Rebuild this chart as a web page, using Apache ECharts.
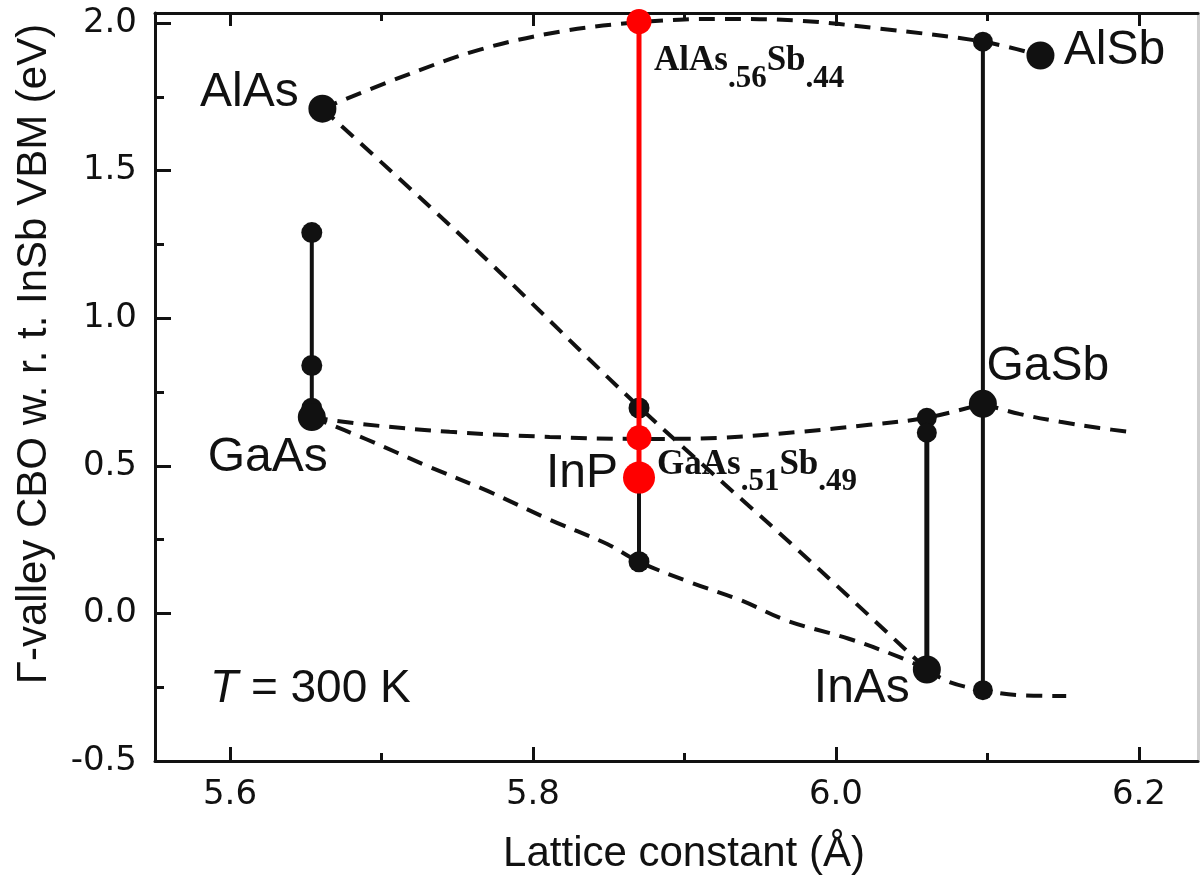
<!DOCTYPE html>
<html>
<head>
<meta charset="utf-8">
<script src="https://cdn.jsdelivr.net/npm/echarts@6/dist/echarts.min.js"></script>
<style>
  html, body { margin: 0; padding: 0; background: #fff; }
  #chart { width: 1200px; height: 883px; }
</style>
</head>
<body>
<div id="chart"></div>
<script>
// Binary III-V compounds: lattice constant (Å) and Γ-valley CBO w.r.t. InSb VBM (eV)
const compounds = ['AlAs', 'AlSb', 'GaSb', 'InAs', 'GaAs', 'InP'];
const latticeA  = [5.661, 6.135, 6.097, 6.06, 5.654, 5.87];
const cboBinary = [1.71, 1.89, 0.71, -0.19, 0.665, 0.46];

// Additional band-edge points stacked at each lattice constant
const colGaAs = [1.29, 0.84, 0.695];
const colInP  = [0.696, 0.175];
const colInAs = [0.663, 0.612];
const colGaSb = [1.937, -0.26];

// Alloys lattice-matched to InP
const alloyCbo   = [2.005, 0.595];
const alloyParts = [['AlAs', '.56', 'Sb', '.44'], ['GaAs', '.51', 'Sb', '.49']];

// Ternary alloy curves: [lattice constant, CBO]
const curveAlAsAlSb = [[5.661, 1.71], [5.712, 1.815], [5.765, 1.91], [5.818, 1.971], [5.87, 2.003],
                       [5.923, 2.014], [5.976, 2.008], [6.029, 1.981], [6.097, 1.937], [6.135, 1.89]];
const curveAlAsInAs = [[5.661, 1.71], [5.765, 1.22], [5.87, 0.70], [5.976, 0.21], [6.06, -0.19]];
const curveGaAsGaSb = [[5.654, 0.665], [5.686, 0.642], [5.745, 0.615], [5.811, 0.598], [5.87, 0.591],
                       [5.923, 0.595], [5.976, 0.615], [6.022, 0.639], [6.06, 0.663], [6.097, 0.71]];
const curveGaSbTail = [[6.097, 0.71], [6.121, 0.676], [6.148, 0.649], [6.174, 0.628], [6.194, 0.615]];
const curveGaAsInAs = [[5.654, 0.665], [5.69, 0.59], [5.73, 0.50], [5.77, 0.415], [5.81, 0.32],
                       [5.849, 0.235], [5.87, 0.175], [5.904, 0.105], [5.937, 0.045], [5.968, -0.025],
                       [6.008, -0.085], [6.042, -0.148], [6.06, -0.19]];
const curveInAsTail = [[6.06, -0.19], [6.075, -0.233], [6.097, -0.26], [6.121, -0.277], [6.152, -0.28]];

// Axis ticks
const xMajor = [5.6, 5.8, 6.0, 6.2];
const xMinor = [5.7, 5.9, 6.1];
const yMajor = [-0.5, 0.0, 0.5, 1.0, 1.5, 2.0];
const yMinor = [-0.25, 0.25, 0.75, 1.25, 1.75];

const xTitle = 'Lattice constant (Å)';
const yTitle = 'Γ-valley CBO w. r. t. InSb VBM (eV)';
const tempNote = ['T', ' = 300 K'];

// ---------------------------------------------------------------
const INK = '#111111';
const RED = '#ff0000';
const SANS = 'Liberation Sans, Arial, Helvetica, sans-serif';
const TICKFONT = 'DejaVu Sans, sans-serif';
const SERIF = 'Liberation Serif, Times New Roman, serif';

const X_MIN = 5.5505, X_MAX = 6.239;
const Y_MIN = -0.5, Y_MAX = 2.034;

const latticeOf = name => latticeA[compounds.indexOf(name)];
const cboOf = name => cboBinary[compounds.indexOf(name)];

const dashed = { type: [16, 10], width: 4, color: INK };

function curve(data) {
  return {
    type: 'line', data: data, smooth: 0.35, showSymbol: false, symbol: 'none',
    lineStyle: dashed, z: 1, silent: true
  };
}

function vbar(name, extra, width, color, z) {
  const vals = extra.concat([cboOf(name)]);
  const a = latticeOf(name);
  return {
    type: 'line', symbol: 'none', showSymbol: false, z: z, silent: true,
    lineStyle: { color: color, width: width, opacity: 1 },
    data: [[a, Math.max(...vals)], [a, Math.min(...vals)]]
  };
}

function dots(name, values, size, color, z) {
  const a = latticeOf(name);
  return {
    type: 'scatter', symbol: 'circle', symbolSize: size, z: z, silent: true,
    itemStyle: { color: color, opacity: 1 },
    data: values.map(v => [a, v])
  };
}

const nameLabelOffset = {
  AlAs: [-73, -16], AlSb: [74, -5], GaSb: [65, -37],
  InAs: [-65, 19], GaAs: [-44, 41], InP: [-57, -4]
};

const binarySeries = {
  type: 'scatter', symbol: 'circle', z: 6, silent: true,
  itemStyle: { opacity: 1 },
  data: compounds.map((n, i) => ({
    value: [latticeA[i], cboBinary[i]],
    name: n,
    symbolSize: n === 'InP' ? 32 : 28,
    itemStyle: { color: n === 'InP' ? RED : INK, opacity: 1 },
    label: {
      show: true, position: 'inside', offset: nameLabelOffset[n],
      formatter: n, color: INK, opacity: 1, fontFamily: SANS, fontSize: 48
    }
  }))
};

const alloyLabelPos = [[27.5, 34.5], [30.5, 21.7]];
const alloySeries = {
  type: 'scatter', symbol: 'circle', symbolSize: 25, z: 5, silent: true,
  itemStyle: { color: RED, opacity: 1 },
  data: alloyCbo.map((v, i) => ({
    value: [latticeOf('InP'), v],
    label: {
      show: true,
      opacity: 1,
      position: alloyLabelPos[i],
      formatter: '{m|' + alloyParts[i][0] + '}{s|' + alloyParts[i][1] + '}{m|' +
                 alloyParts[i][2] + '}{s|' + alloyParts[i][3] + '}',
      rich: {
        m: { fontFamily: SERIF, fontWeight: 'bold', fontSize: 35, lineHeight: 35,
             verticalAlign: 'top', color: INK },
        s: { fontFamily: SERIF, fontWeight: 'bold', fontSize: 31, lineHeight: 51,
             verticalAlign: 'bottom', color: INK }
      }
    }
  }))
};

function xAxisDef(pos, ticks, len, withLine, withLabel) {
  const ax = {
    type: 'value', position: pos, min: X_MIN, max: X_MAX,
    splitLine: { show: false },
    axisLine: { show: withLine, onZero: false, lineStyle: { color: INK, width: 3 } },
    axisTick: { show: true, inside: true, length: len, customValues: ticks,
                lineStyle: { color: INK, width: 3 } },
    axisLabel: { show: false }
  };
  if (withLabel) {
    ax.axisLabel = {
      show: true, customValues: ticks, formatter: v => v.toFixed(1),
      fontFamily: TICKFONT, fontSize: 34, color: INK, margin: 17
    };
    ax.name = xTitle;
    ax.nameLocation = 'middle';
    ax.nameGap = 72;
    ax.nameTextStyle = { fontFamily: SANS, fontSize: 42, color: INK, padding: [0, 0, 0, 15] };
  }
  return ax;
}

function yAxisDef(pos, ticks, len, withLine, withLabel, lineColor) {
  const ax = {
    type: 'value', position: pos, min: Y_MIN, max: Y_MAX,
    splitLine: { show: false },
    axisLine: { show: withLine, onZero: false, lineStyle: { color: lineColor || INK, width: 3 } },
    axisTick: { show: ticks.length > 0, inside: true, length: len, customValues: ticks,
                lineStyle: { color: INK, width: 3 } },
    axisLabel: { show: false }
  };
  if (withLabel) {
    ax.axisLabel = {
      show: true, customValues: ticks, formatter: v => v.toFixed(1),
      fontFamily: TICKFONT, fontSize: 34, color: INK, margin: 18
    };
    ax.name = yTitle;
    ax.nameLocation = 'middle';
    ax.nameGap = 100;
    ax.nameTextStyle = { fontFamily: SANS, fontSize: 42, color: INK, padding: [0, 0, 0, 66] };
  }
  return ax;
}

const option = {
  animation: false,
  backgroundColor: '#ffffff',
  grid: { left: 155, right: 2, top: 13, bottom: 122, containLabel: false },
  xAxis: [
    xAxisDef('bottom', xMajor, 14, true, true),
    xAxisDef('bottom', xMinor, 8, false, false),
    xAxisDef('top', xMajor, 13, true, false),
    xAxisDef('top', xMinor, 8, false, false)
  ],
  yAxis: [
    yAxisDef('left', yMajor, 16, true, true),
    yAxisDef('left', yMinor, 9, false, false),
    yAxisDef('right', [], 0, true, false, '#cfcfcf')
  ],
  series: [
    curve(curveAlAsAlSb),
    curve(curveAlAsInAs),
    curve(curveGaAsGaSb),
    curve(curveGaSbTail),
    curve(curveGaAsInAs),
    curve(curveInAsTail),
    vbar('GaAs', colGaAs, 4, INK, 2),
    vbar('InP', colInP, 4, INK, 2),
    vbar('InAs', colInAs, 5, INK, 2),
    vbar('GaSb', colGaSb, 4, INK, 2),
    dots('GaAs', colGaAs, 21, INK, 3),
    dots('InP', colInP, 21, INK, 3),
    dots('InAs', colInAs, 20, INK, 3),
    dots('GaSb', colGaSb, 20, INK, 3),
    vbar('InP', alloyCbo, 5, RED, 4),
    alloySeries,
    binarySeries
  ],
  graphic: [{
    type: 'text', left: 210, top: 666, silent: true,
    style: {
      text: '{i|' + tempNote[0] + '}' + tempNote[1],
      fontFamily: SANS, fontSize: 46, fill: INK,
      rich: { i: { fontFamily: SANS, fontSize: 46, fontStyle: 'italic', fill: INK } }
    }
  }]
};

const chart = echarts.init(document.getElementById('chart'), null, { renderer: 'canvas' });
chart.setOption(option);
</script>
</body>
</html>
